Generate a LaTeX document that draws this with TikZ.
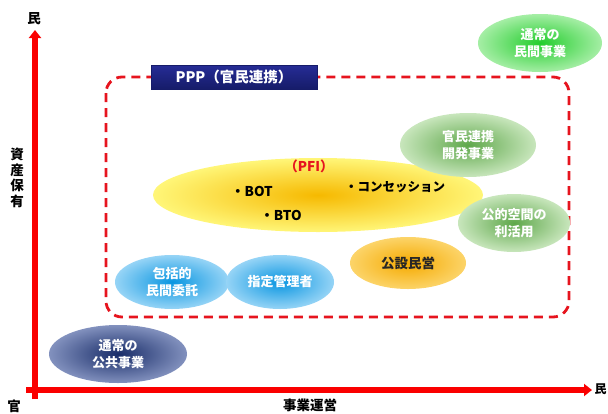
\documentclass[tikz,border=0pt]{standalone}
\usepackage{fontspec}
\setmainfont{Noto Sans CJK JP}
\usetikzlibrary{arrows.meta,shapes.geometric}
\definecolor{axred}{RGB}{250,0,0}
\definecolor{dashred}{RGB}{230,20,30}
\definecolor{gAin}{RGB}{35,205,45}
\definecolor{gAout}{RGB}{165,238,165}
\definecolor{gBin}{RGB}{95,168,75}
\definecolor{gBout}{RGB}{200,230,188}
\definecolor{orin}{RGB}{245,170,0}
\definecolor{orout}{RGB}{252,212,105}
\definecolor{blin}{RGB}{10,150,225}
\definecolor{blout}{RGB}{150,212,246}
\definecolor{nvin}{RGB}{25,45,105}
\definecolor{nvout}{RGB}{130,145,190}
\definecolor{yin}{RGB}{246,185,0}
\definecolor{yout}{RGB}{255,246,120}
\definecolor{pppin}{RGB}{38,44,150}
\definecolor{pppout}{RGB}{22,28,105}
\begin{document}
\begin{tikzpicture}[x=1pt,y=-1pt,
  axis/.style={line width=5.5pt,axred,-{Triangle[length=8pt,width=12pt]}},
  blob/.style n args={4}{ellipse,inner sep=0pt,minimum width=#1,minimum height=#2,
    shade,shading=radial,inner color=#3,outer color=#4},
  btxt/.style={text=white,font=\fontsize{13}{16.5}\selectfont\bfseries,align=center},
  lbl/.style={font=\fontsize{13.5}{15.5}\selectfont\bfseries,align=center}]
\useasboundingbox (0,0) rectangle (608,413);
% axes
\coordinate (v0) at (35,399);
\coordinate (v1) at (35,30);
\coordinate (h0) at (26,390);
\coordinate (h1) at (592,390);
\draw[axis] (v0) -- (v1);
\draw[axis] (h0) -- (h1);
\node[lbl] (ytop) at (34,19) {民};
\node[lbl,font=\fontsize{12}{14}\selectfont\bfseries,inner sep=0pt] (xright) at (600.5,389) {民};
\node[lbl] (orig) at (14,406) {官};
\node[lbl] (xlab) at (310,405) {事業運営};
\node[lbl] (ylab) at (17,178) {資\\産\\保\\有};
% dashed PPP region
\draw[dashred,line width=2.8pt,dash pattern=on 9pt off 6pt,rounded corners=16pt]
  (106,77) rectangle (569,317);
\node[draw=pppout,line width=0.6pt,top color=pppin,bottom color=pppout,minimum width=166pt,minimum height=24pt,
  inner sep=0pt,text=white,font=\fontsize{14.5}{16}\selectfont\bfseries] (ppp) at (234,77) {PPP（官民連携）};
% PFI
\node[blob={330pt}{74pt}{yin}{yout}] (pfi) at (318,195) {};
\node[text=dashred,font=\fontsize{13.5}{15}\selectfont\bfseries] (pfil) at (309,166) {（PFI）};
\node[font=\fontsize{13.5}{15}\selectfont\bfseries] (bot) at (252,191) {・BOT};
\node[font=\fontsize{13.5}{15}\selectfont\bfseries] (bto) at (281,215) {・BTO};
\node[font=\fontsize{12.5}{15}\selectfont\bfseries] (con) at (395,187) {・コンセッション};
% blobs
\node[blob={124pt}{58pt}{gAin}{gAout},btxt] (minkan) at (540,43) {通常の\\民間事業};
\node[blob={136pt}{64pt}{gBin}{gBout},btxt] (kaihatsu) at (468,145) {官民連携\\開発事業};
\node[blob={112pt}{58pt}{gBin}{gBout},btxt] (kuukan) at (514,223) {公的空間の\\利活用};
\node[blob={116pt}{52pt}{orin}{orout},font=\fontsize{13.5}{16}\selectfont\bfseries,text=black!85] (kousetsu) at (408,263) {公設民営};
\node[blob={114pt}{54pt}{blin}{blout},btxt] (houkatsu) at (172,282) {包括的\\民間委託};
\node[blob={108pt}{54pt}{blin}{blout},btxt] (shitei) at (280,282) {指定管理者};
\node[blob={138pt}{58pt}{nvin}{nvout},btxt] (koukyou) at (118,354) {通常の\\公共事業};
\end{tikzpicture}
\end{document}
